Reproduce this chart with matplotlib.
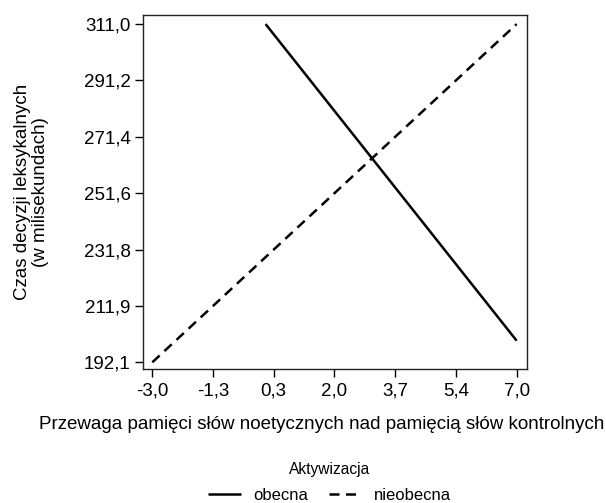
import matplotlib
matplotlib.use("Agg")
import matplotlib.pyplot as plt
import numpy as np

plt.rcParams['font.family'] = ['Liberation Sans', 'DejaVu Sans']

# Data
series_names = ["obecna", "nieobecna"]
obecna_x = [0.11, 7.0]
obecna_y = [311.0, 199.7]
nieobecna_x = [-3.0, 7.0]
nieobecna_y = [192.1, 311.0]

xtick_labels = ["-3,0", "-1,3", "0,3", "2,0", "3,7", "5,4", "7,0"]
ytick_labels = ["192,1", "211,9", "231,8", "251,6", "271,4", "291,2", "311,0"]
x_min, x_max = -3.0, 7.0
y_min, y_max = 192.1, 311.0

fig = plt.figure(figsize=(6.06, 5.03), dpi=100)
ax = fig.add_axes([0.236, 0.2664, 0.633, 0.7044])

l1, = ax.plot(obecna_x, obecna_y, color='black', lw=1.8, solid_capstyle='butt',
              label=series_names[0])
l2, = ax.plot(nieobecna_x, nieobecna_y, color='black', lw=1.8, dashes=(4, 2.6),
              dash_capstyle='butt', label=series_names[1])

ax.set_xlim(-3.255, 7.274)
ax.set_ylim(189.75, 314.3)
ax.set_xticks(np.linspace(x_min, x_max, len(xtick_labels)))
ax.set_xticklabels(xtick_labels)
ax.set_yticks(np.linspace(y_min, y_max, len(ytick_labels)))
ax.set_yticklabels(ytick_labels)
ax.tick_params(axis='both', direction='out', length=6, width=1, labelsize=13.5,
               color='black')
ax.tick_params(axis='x', pad=4)
ax.tick_params(axis='y', pad=3)
for s in ax.spines.values():
    s.set_linewidth(1.0)
    s.set_color('#222222')

ax.set_xlabel("Przewaga pamięci słów noetycznych nad pamięcią słów kontrolnych",
              fontsize=13.5)
ax.xaxis.set_label_coords(0.467, -0.132)
ax.set_ylabel("Czas decyzji leksykalnych\n(w milisekundach)", fontsize=13.5,
              linespacing=1.05)
ax.yaxis.set_label_coords(-0.245, 0.5)

leg = fig.legend(handles=[l1, l2], labels=series_names, loc='center',
                 bbox_to_anchor=(0.544, 0.041), ncol=2, frameon=False,
                 title="Aktywizacja", fontsize=12, title_fontsize=11.2,
                 handlelength=2.0, handletextpad=0.75, columnspacing=1.2,
                 borderpad=0.2)
leg._legend_box.sep = 8

fig.savefig("out.png", dpi=100)
